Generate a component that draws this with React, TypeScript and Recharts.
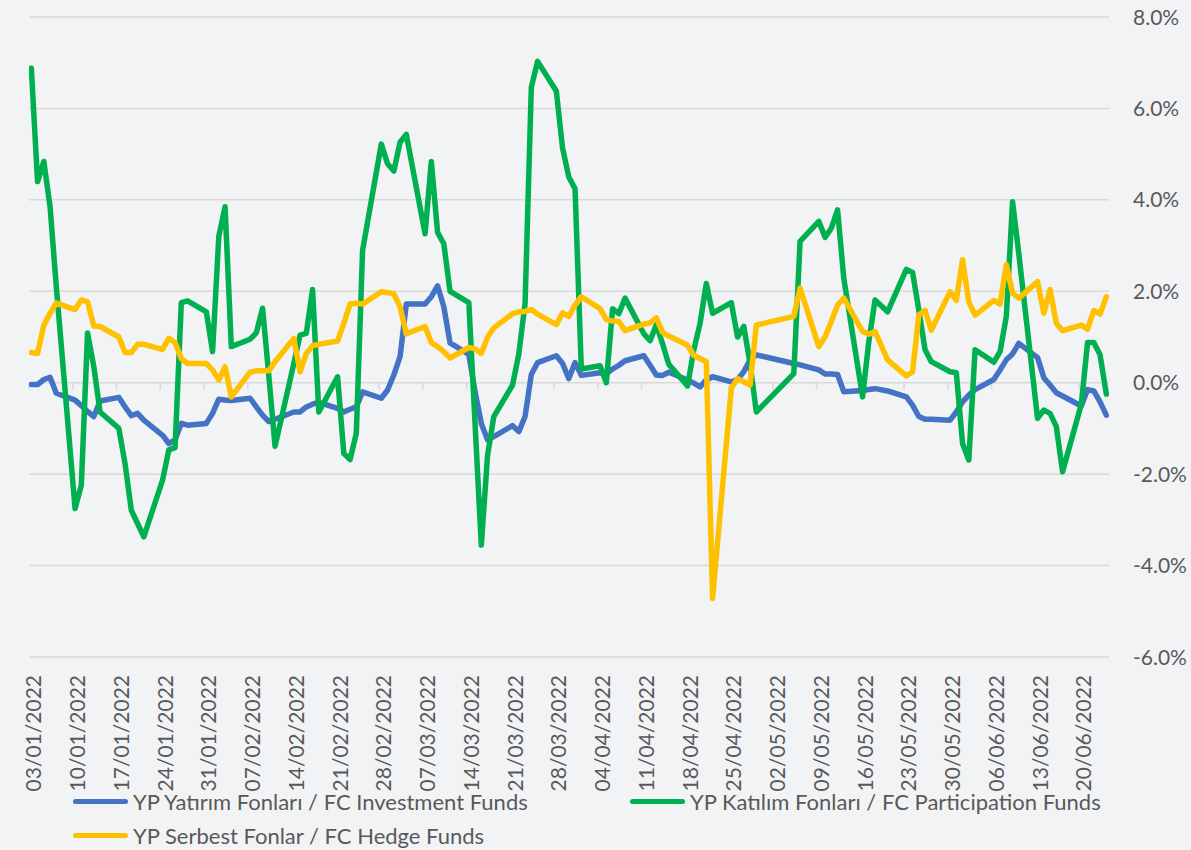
import React from 'react';
import { LineChart, Line, XAxis, YAxis, CartesianGrid, ReferenceLine } from 'recharts';

const dates = [
  '03/01/2022', '04/01/2022', '05/01/2022', '06/01/2022', '07/01/2022',
  '10/01/2022', '11/01/2022', '12/01/2022', '13/01/2022', '14/01/2022',
  '17/01/2022', '18/01/2022', '19/01/2022', '20/01/2022', '21/01/2022',
  '24/01/2022', '25/01/2022', '26/01/2022', '27/01/2022', '28/01/2022',
  '31/01/2022', '01/02/2022', '02/02/2022', '03/02/2022', '04/02/2022',
  '07/02/2022', '08/02/2022', '09/02/2022', '10/02/2022', '11/02/2022',
  '14/02/2022', '15/02/2022', '16/02/2022', '17/02/2022', '18/02/2022',
  '21/02/2022', '22/02/2022', '23/02/2022', '24/02/2022', '25/02/2022',
  '28/02/2022', '01/03/2022', '02/03/2022', '03/03/2022', '04/03/2022',
  '07/03/2022', '08/03/2022', '09/03/2022', '10/03/2022', '11/03/2022',
  '14/03/2022', '15/03/2022', '16/03/2022', '17/03/2022', '18/03/2022',
  '21/03/2022', '22/03/2022', '23/03/2022', '24/03/2022', '25/03/2022',
  '28/03/2022', '29/03/2022', '30/03/2022', '31/03/2022', '01/04/2022',
  '04/04/2022', '05/04/2022', '06/04/2022', '07/04/2022', '08/04/2022',
  '11/04/2022', '12/04/2022', '13/04/2022', '14/04/2022', '15/04/2022',
  '18/04/2022', '19/04/2022', '20/04/2022', '21/04/2022', '22/04/2022',
  '25/04/2022', '26/04/2022', '27/04/2022', '28/04/2022', '29/04/2022',
  '05/05/2022', '06/05/2022',
  '09/05/2022', '10/05/2022', '11/05/2022', '12/05/2022', '13/05/2022',
  '16/05/2022', '17/05/2022', '18/05/2022', '20/05/2022',
  '23/05/2022', '24/05/2022', '25/05/2022', '26/05/2022', '27/05/2022',
  '30/05/2022', '31/05/2022', '01/06/2022', '02/06/2022', '03/06/2022',
  '06/06/2022', '07/06/2022', '08/06/2022', '09/06/2022', '10/06/2022',
  '13/06/2022', '14/06/2022', '15/06/2022', '16/06/2022', '17/06/2022',
  '20/06/2022', '21/06/2022', '22/06/2022', '23/06/2022', '24/06/2022',
];

const investmentFunds = [
  -0.04, -0.04, 0.07, 0.12, -0.23,
  -0.38, -0.5, -0.63, -0.74, -0.4,
  -0.32, -0.53, -0.72, -0.67, -0.82,
  -1.15, -1.33, -1.25, -0.89, -0.93,
  -0.89, -0.67, -0.36, -0.38, -0.39,
  -0.34, -0.53, -0.71, -0.85, -0.8,
  -0.64, -0.64, -0.53, -0.47, -0.43,
  -0.56, -0.64, -0.58, -0.53, -0.2,
  -0.34, -0.16, 0.17, 0.57, 1.72,
  1.72, 1.88, 2.12, 1.66, 0.87,
  0.62, -0.2, -0.89, -1.25, -1.18,
  -0.94, -1.07, -0.74, 0.18, 0.44,
  0.59, 0.42, 0.09, 0.44, 0.16,
  0.22, 0.2, 0.3, 0.38, 0.48,
  0.59, 0.38, 0.17, 0.16, 0.23,
  0.06, -0.01, -0.09, 0.06, 0.13,
  0.02, 0.07, 0.24, 0.5, 0.61,
  0.42, 0.39,
  0.28, 0.19, 0.19, 0.18, -0.2,
  -0.17, -0.15, -0.13, -0.18,
  -0.31, -0.49, -0.74, -0.8, -0.8,
  -0.82, -0.64, -0.42, -0.27, -0.15,
  0.07, 0.28, 0.5, 0.63, 0.86,
  0.55, 0.11, -0.05, -0.22, -0.29,
  -0.51, -0.15, -0.18, -0.42, -0.71,
];

const participationFunds = [
  6.88, 4.4, 4.84, 3.85, 2.1,
  -2.75, -2.24, 1.09, 0.35, -0.64,
  -1.0, -1.77, -2.79, -3.08, -3.37,
  -2.13, -1.47, -1.42, 1.75, 1.79,
  1.55, 0.68, 3.2, 3.85, 0.79,
  0.95, 1.09, 1.63, 0.15, -1.39,
  0.42, 1.04, 1.08, 2.04, -0.64,
  0.13, -1.55, -1.68, -1.11, 2.89,
  5.22, 4.79, 4.63, 5.26, 5.43,
  3.26, 4.84, 3.29, 3.04, 2.0,
  1.75, -0.9, -3.55, -1.59, -0.74,
  -0.05, 0.63, 1.73, 6.46, 7.03,
  6.38, 5.13, 4.5, 4.24, 0.3,
  0.37, 0.0, 1.62, 1.51, 1.85,
  1.07, 0.92, 1.27, 0.85, 0.4,
  -0.07, 0.72, 1.3, 2.17, 1.52,
  1.75, 1.0, 1.23, 0.42, -0.64,
  0.2, 3.09,
  3.53, 3.18, 3.38, 3.78, 2.28,
  -0.31, 0.9, 1.81, 1.55,
  2.48, 2.41, 1.59, 0.72, 0.46,
  0.24, 0.22, -1.33, -1.69, 0.72,
  0.45, 0.68, 1.45, 3.96, 2.82,
  -0.78, -0.6, -0.67, -0.96, -1.95,
  -0.47, 0.88, 0.88, 0.61, -0.25,
];

const hedgeFunds = [
  0.66, 0.64, 1.26, 1.52, 1.74,
  1.6, 1.81, 1.77, 1.24, 1.23,
  1.0, 0.66, 0.66, 0.84, 0.84,
  0.73, 0.97, 0.88, 0.53, 0.42,
  0.42, 0.28, 0.06, 0.35, -0.31,
  0.23, 0.26, 0.26, 0.26, 0.46,
  0.97, 0.24, 0.64, 0.81, 0.84,
  0.91, 1.3, 1.72, 1.74, 1.72,
  1.99, 1.97, 1.94, 1.66, 1.07,
  1.23, 0.88, 0.79, 0.68, 0.54,
  0.77, 0.74, 0.64, 1.0, 1.2,
  1.51, 1.55, 1.56, 1.6, 1.5,
  1.27, 1.53, 1.45, 1.7, 1.88,
  1.62, 1.38, 1.35, 1.34, 1.14,
  1.28, 1.31, 1.42, 1.1, 1.02,
  0.82, 0.6, 0.53, 0.46, -4.72,
  -0.12, 0.09, 0.02, -0.05, 1.26,
  1.45, 2.07,
  0.79, 1.0, 1.34, 1.7, 1.85,
  1.12, 1.06, 1.12, 0.5,
  0.15, 0.24, 1.48, 1.58, 1.15,
  1.99, 1.8, 2.69, 1.77, 1.48,
  1.8, 1.72, 2.58, 1.96, 1.85,
  2.21, 1.52, 2.04, 1.3, 1.14,
  1.26, 1.17, 1.58, 1.5, 1.88,
];

const tickDates = [
  '03/01/2022', '10/01/2022', '17/01/2022', '24/01/2022', '31/01/2022',
  '07/02/2022', '14/02/2022', '21/02/2022', '28/02/2022', '07/03/2022',
  '14/03/2022', '21/03/2022', '28/03/2022', '04/04/2022', '11/04/2022',
  '18/04/2022', '25/04/2022', '02/05/2022', '09/05/2022', '16/05/2022',
  '23/05/2022', '30/05/2022', '06/06/2022', '13/06/2022', '20/06/2022',
];

const yTicks = [-6, -4, -2, 0, 2, 4, 6, 8];

const seriesNames = {
  inv: 'YP Yatırım Fonları / FC Investment Funds',
  part: 'YP Katılım Fonları / FC Participation Funds',
  hedge: 'YP Serbest Fonlar / FC Hedge Funds',
};

const colors = { inv: '#4472C4', part: '#00B050', hedge: '#FFC000' };

const FONT = 'Lato, "Open Sans", sans-serif';
const TEXT = '#595959';
const GRID = '#D9D9D9';

const toDay = (s: string) => {
  const [dd, mm, yy] = s.split('/').map(Number);
  return Math.round((Date.UTC(yy, mm - 1, dd) - Date.UTC(2022, 0, 3)) / 86400000);
};

const data = dates.map((s, i) => ({
  d: toDay(s),
  date: s,
  inv: investmentFunds[i],
  part: participationFunds[i],
  hedge: hedgeFunds[i],
}));

const tickDays = tickDates.map(toDay);

const XTick = (props: any) => {
  const { x, y, payload } = props;
  const idx = tickDays.indexOf(payload.value);
  const label = idx >= 0 ? tickDates[idx] : '';
  const tx = x + 2.5;
  return (
    <text
      x={tx}
      y={y}
      dy="0.36em"
      textAnchor="end"
      transform={`rotate(-90, ${tx}, ${y})`}
      fontSize={21}
      fontFamily={FONT}
      fill={TEXT}
    >
      {label}
    </text>
  );
};

const YTick = (props: any) => {
  const { x, y, payload } = props;
  return (
    <text x={x + 24} y={y} dy="0.36em" textAnchor="start" fontSize={21} fontFamily={FONT} fill={TEXT}>
      {Number(payload.value).toFixed(1) + '%'}
    </text>
  );
};

const LegendItem = ({ color, label, left, top }: { color: string; label: string; left: number; top: number }) => (
  <div
    style={{
      position: 'absolute',
      left,
      top: top - 14,
      height: 28,
      display: 'flex',
      alignItems: 'center',
      whiteSpace: 'nowrap',
    }}
  >
    <span style={{ display: 'inline-block', width: 55, height: 5, borderRadius: 3, background: color }} />
    <span style={{ marginLeft: 5, fontFamily: FONT, fontSize: 22, color: TEXT }}>{label}</span>
  </div>
);

export default function App() {
  return (
    <div
      style={{
        position: 'absolute',
        left: 0,
        top: 0,
        width: 1191,
        height: 850,
        background: '#F2F3F5',
        overflow: 'hidden',
      }}
    >
      <LineChart width={1191} height={850} data={data} margin={{ top: 17, right: 0, left: 29, bottom: 0 }}>
        <CartesianGrid horizontal vertical={false} stroke={GRID} strokeWidth={1.5} />
        <XAxis
          dataKey="d"
          type="number"
          domain={[-0.37, 172.43]}
          allowDataOverflow
          ticks={tickDays}
          interval={0}
          height={193}
          axisLine={false}
          tickLine={false}
          tickSize={0}
          tickMargin={18}
          tick={<XTick />}
        />
        <YAxis
          orientation="right"
          domain={[-6, 8]}
          ticks={yTicks}
          allowDataOverflow
          width={82}
          axisLine={false}
          tickLine={false}
          tickSize={0}
          tickMargin={0}
          tick={<YTick />}
        />
        {tickDays.map((d) => (
          <ReferenceLine
            key={'t' + d}
            segment={[
              { x: d - 0.36, y: 0 },
              { x: d - 0.36, y: -0.15 },
            ]}
            stroke={GRID}
            strokeWidth={1.5}
            ifOverflow="visible"
          />
        ))}
        <Line
          type="linear"
          dataKey="inv"
          name={seriesNames.inv}
          stroke={colors.inv}
          strokeWidth={5.5}
          dot={false}
          strokeLinejoin="round"
          strokeLinecap="round"
          isAnimationActive={false}
        />
        <Line
          type="linear"
          dataKey="part"
          name={seriesNames.part}
          stroke={colors.part}
          strokeWidth={5.5}
          dot={false}
          strokeLinejoin="round"
          strokeLinecap="round"
          isAnimationActive={false}
        />
        <Line
          type="linear"
          dataKey="hedge"
          name={seriesNames.hedge}
          stroke={colors.hedge}
          strokeWidth={5.5}
          dot={false}
          strokeLinejoin="round"
          strokeLinecap="round"
          isAnimationActive={false}
        />
      </LineChart>
      <LegendItem color={colors.inv} label={seriesNames.inv} left={73} top={801} />
      <LegendItem color={colors.part} label={seriesNames.part} left={630} top={801} />
      <LegendItem color={colors.hedge} label={seriesNames.hedge} left={73} top={835} />
    </div>
  );
}
